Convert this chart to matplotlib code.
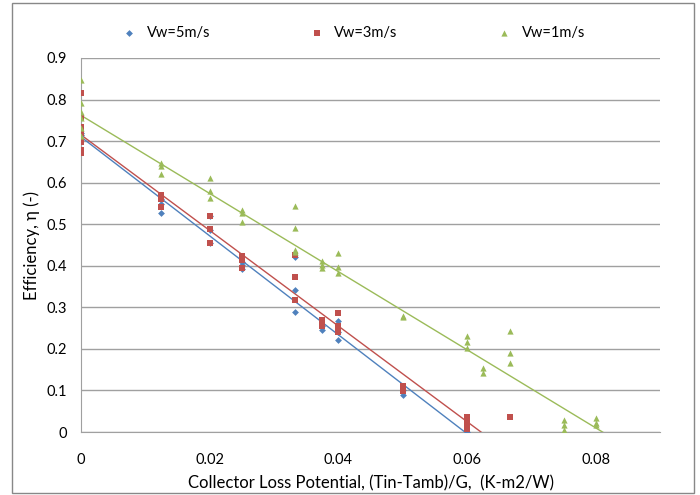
import matplotlib
matplotlib.use("Agg")
import matplotlib.pyplot as plt
from matplotlib.patches import Rectangle
import numpy as np

plt.rcParams['font.family'] = ['Lato', 'DejaVu Sans']

# data
x5 = [0, 0, 0, 0.0125, 0.0125, 0.0125, 0.02, 0.02, 0.02, 0.025, 0.025, 0.025,
      0.0333, 0.0333, 0.0333, 0.0375, 0.0375, 0.04, 0.04, 0.04, 0.05, 0.05, 0.06]
y5 = [0.705, 0.715, 0.72, 0.549, 0.528, 0.56, 0.52, 0.485, 0.455, 0.41, 0.402, 0.392,
      0.422, 0.342, 0.288, 0.255, 0.245, 0.268, 0.24, 0.221, 0.1, 0.089, 0.0]

x3 = [0, 0, 0, 0, 0, 0, 0, 0.0125, 0.0125, 0.0125, 0.02, 0.02, 0.02,
      0.025, 0.025, 0.025, 0.0333, 0.0333, 0.0333, 0.0375, 0.0375, 0.0375,
      0.04, 0.04, 0.04, 0.05, 0.05, 0.05, 0.06, 0.06, 0.06, 0.0667]
y3 = [0.816, 0.755, 0.734, 0.72, 0.699, 0.679, 0.672, 0.57, 0.56, 0.541, 0.52, 0.488, 0.456,
      0.424, 0.414, 0.395, 0.426, 0.372, 0.318, 0.269, 0.262, 0.256,
      0.286, 0.255, 0.241, 0.111, 0.103, 0.098, 0.037, 0.022, 0.007, 0.037]

x1 = [0, 0, 0, 0, 0, 0, 0.0125, 0.0125, 0.0125, 0.02, 0.02, 0.02,
      0.025, 0.025, 0.025, 0.0333, 0.0333, 0.0333, 0.0333, 0.0375, 0.0375, 0.0375,
      0.04, 0.04, 0.04, 0.05, 0.05, 0.06, 0.06, 0.06, 0.0625, 0.0625,
      0.0667, 0.0667, 0.0667, 0.075, 0.075, 0.075, 0.08, 0.08, 0.08]
y1 = [0.847, 0.792, 0.771, 0.756, 0.731, 0.712, 0.648, 0.64, 0.62, 0.611, 0.579, 0.564,
      0.534, 0.528, 0.506, 0.545, 0.492, 0.438, 0.433, 0.411, 0.403, 0.394,
      0.43, 0.398, 0.383, 0.279, 0.276, 0.231, 0.217, 0.201, 0.155, 0.141,
      0.244, 0.19, 0.165, 0.03, 0.018, 0.005, 0.033, 0.022, 0.018]

# linear trendlines (intercept, slope)
fit5 = (0.710, -11.9)
fit3 = (0.715, -11.5)
fit1 = (0.762, -9.4)

labels = ['Vw=5m/s', 'Vw=3m/s', 'Vw=1m/s']
colors = ['#4F81BD', '#C0504D', '#9BBB59']

fig = plt.figure(figsize=(7, 4.95), dpi=100)
ax = fig.add_axes([81/700, 1-432/495, (660-81)/700, (432-58)/495])

fig.patches.append(Rectangle((12/700, 2/495), 682/700, 490/495, transform=fig.transFigure,
                             fill=False, edgecolor='#888888', linewidth=1.0))

xs = [x5, x3, x1]
ys = [y5, y3, y1]
fits = [fit5, fit3, fit1]
markers = ['D', 's', '^']
msizes = [12, 24, 20]

for xx, yy, f, c, m, s, lab in zip(xs, ys, fits, colors, markers, msizes, labels):
    xl = np.array([0, max(xx) + 0.002])
    ax.plot(xl, f[0] + f[1]*xl, color=c, lw=1.0, zorder=2)
    ax.scatter(xx, yy, marker=m, s=s, color=c, label=lab, zorder=3, linewidths=0)

ax.set_xlim(0, 0.09)
ax.set_ylim(0, 0.9)
ax.set_xticks([0, 0.02, 0.04, 0.06, 0.08])
ax.set_xticklabels(['0', '0.02', '0.04', '0.06', '0.08'])
ax.set_yticks(np.arange(0, 0.91, 0.1))
ax.set_yticklabels(['0'] + ['%.1f' % v for v in np.arange(0.1, 0.91, 0.1)])
ax.grid(axis='y', color='#a0a0a0', lw=1.0)
ax.set_axisbelow(True)
for sp in ['top', 'right']:
    ax.spines[sp].set_visible(False)
for sp in ['left', 'bottom']:
    ax.spines[sp].set_color('#a0a0a0')
ax.tick_params(length=0, labelsize=10.5, pad=15)
ax.tick_params(axis='y', pad=10)

ax.set_xlabel('Collector Loss Potential, (Tin-Tamb)/G,  (K-m2/W)', fontsize=12, labelpad=6)
ax.set_ylabel('Efficiency, η (-)', fontsize=12, labelpad=5)

fig.legend(loc='center', bbox_to_anchor=(350/700, 1-33/495), ncol=3, frameon=False,
           fontsize=10.5, columnspacing=6.3, handletextpad=0.2, markerscale=1.0)

fig.savefig('out.png', dpi=100)
